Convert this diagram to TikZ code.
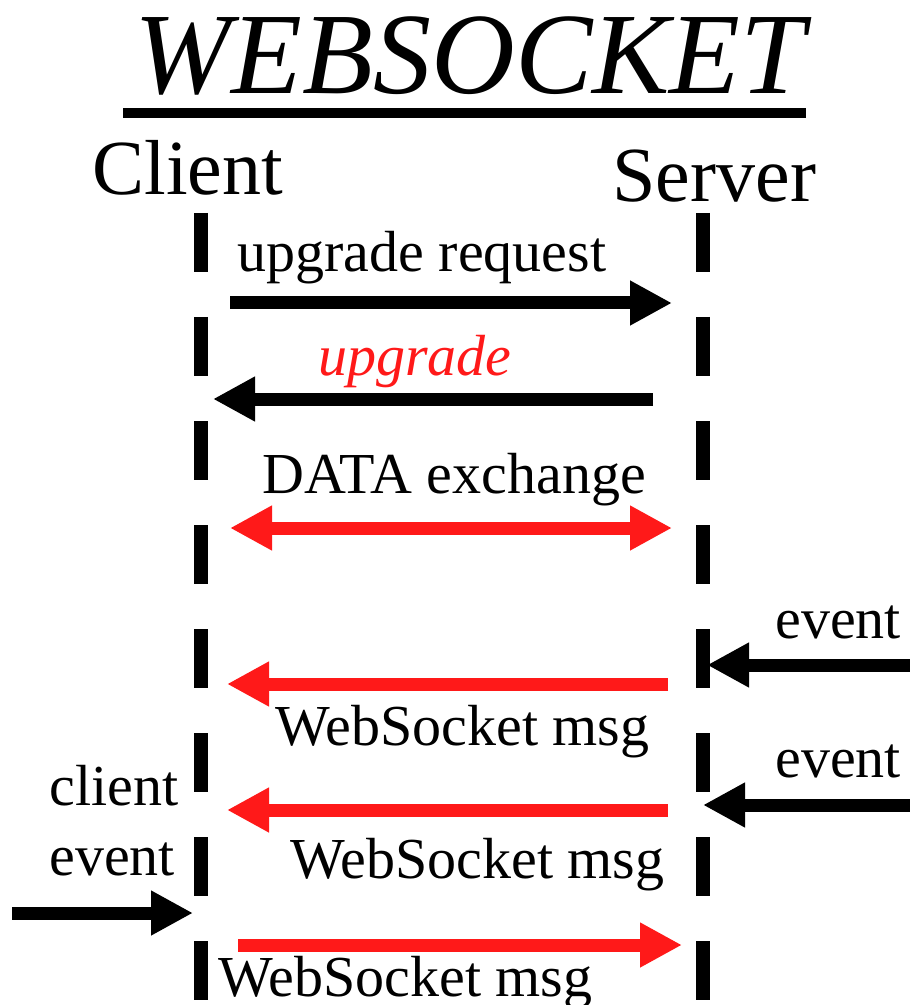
\documentclass[tikz,border=0pt]{standalone}
\usepackage{fontspec}
\setmainfont{Liberation Serif}
\usetikzlibrary{arrows.meta}
\definecolor{wsred}{RGB}{255,25,25}
\begin{document}
\begin{tikzpicture}[x=0.5pt,y=-0.5pt,
  lbl/.style={inner sep=0pt,anchor=base west,font=\fontsize{29pt}{34pt}\selectfont},
  head/.style={inner sep=0pt,anchor=base west,font=\fontsize{39pt}{46pt}\selectfont},
  lifeline/.style={line width=7pt,dash pattern=on 29.5pt off 22.5pt},
  msg/.style={line width=6.5pt,-{Triangle[length=21pt,width=21pt]}},
  msgboth/.style={line width=6.5pt,{Triangle[length=21pt,width=21pt]}-{Triangle[length=21pt,width=21pt]}}]
\useasboundingbox[fill=white] (0,0) rectangle (909,1005);

% title
\node[inner sep=0pt,anchor=base,font=\fontsize{58pt}{68pt}\selectfont\itshape] (title) at (470,94) {WEBSOCKET};
\coordinate (ulA) at (123,113);
\coordinate (ulB) at (806,113);
\draw[line width=5pt] (ulA) -- (ulB);

% participants
\node[head] (client) at (92,195) {Client};
\node[head] (server) at (612,202) {Server};

% lifelines
\coordinate (cTop) at (200.5,213);
\coordinate (cBot) at (200.5,1000);
\coordinate (sTop) at (702.5,213);
\coordinate (sBot) at (702.5,1000);
\draw[lifeline] (cTop) -- (cBot);
\draw[lifeline] (sTop) -- (sBot);

% labels
\node[lbl] (l1) at (237,272) {upgrade request};
\node[lbl,text=wsred,font=\fontsize{29pt}{34pt}\selectfont\itshape] (l2) at (318,375) {upgrade};
\node[lbl] (l3) at (262,493) {DATA exchange};
\node[lbl] (ev1) at (775,638) {event};
\node[lbl] (m1) at (275,745) {WebSocket msg};
\node[lbl] (ev2) at (775,777) {event};
\node[lbl] (m2) at (290,878) {WebSocket msg};
\node[lbl] (ce1) at (49,805) {client};
\node[lbl] (ce2) at (49,875) {event};
\node[lbl] (m3) at (218,996) {WebSocket msg};

% arrow end points
\coordinate (a1s) at (230,303); \coordinate (a1e) at (672,303);
\coordinate (a2s) at (653,399); \coordinate (a2e) at (213,399);
\coordinate (a3s) at (230,528); \coordinate (a3e) at (672,528);
\coordinate (a4s) at (915,665); \coordinate (a4e) at (707,665);
\coordinate (a5s) at (668,684); \coordinate (a5e) at (227,684);
\coordinate (a6s) at (915,805); \coordinate (a6e) at (703,805);
\coordinate (a7s) at (668,810); \coordinate (a7e) at (227,810);
\coordinate (a8s) at (12,913);  \coordinate (a8e) at (193,913);
\coordinate (a9s) at (238,945); \coordinate (a9e) at (682,945);

\draw[msg] (a1s) -- (a1e);
\draw[msg] (a2s) -- (a2e);
\draw[msgboth,wsred] (a3s) -- (a3e);
\draw[msg] (a4s) -- (a4e);
\draw[msg,wsred] (a5s) -- (a5e);
\draw[msg] (a6s) -- (a6e);
\draw[msg,wsred] (a7s) -- (a7e);
\draw[msg] (a8s) -- (a8e);
\draw[msg,wsred] (a9s) -- (a9e);
\end{tikzpicture}
\end{document}
